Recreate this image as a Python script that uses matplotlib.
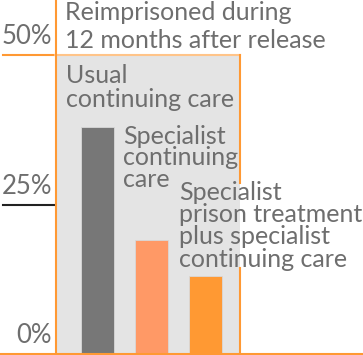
import matplotlib
matplotlib.use("Agg")
import matplotlib.pyplot as plt
import matplotlib.transforms as mtransforms
from matplotlib.lines import Line2D

# data (% reimprisoned within 12 months)
groups = ["Usual\ncontinuing care",
          "Specialist\ncontinuing\ncare",
          "Specialist\nprison treatment\nplus specialist\ncontinuing care"]
values = [38, 19, 13]
bar_colors = ["#777777", "#ff9966", "#ff9933"]
tick_values = [0, 25, 50]
tick_labels = ["0%", "25%", "50%"]
title = "Reimprisoned during\n12 months after release"

W, H = 363, 355
TEXT = "#6e6e6e"
ORANGE = "#ff9933"
FS = 18

plt.rcParams["font.family"] = ["Lato", "DejaVu Sans"]

fig = plt.figure(figsize=(W / 100, H / 100), dpi=100)


def fx(px):
    return px / W


def fy(py):
    return 1 - py / H


# plot box: x 55..240 px, y 55..354 px
ax = fig.add_axes([fx(55), fy(354), fx(240) - fx(55), fy(55) - fy(354)])
ax.set_facecolor("#e4e4e4")
ax.set_ylim(0, 50)
ax.set_xlim(-0.79, 2.64)

x = list(range(len(values)))
ax.bar(x, values, width=0.61, color=bar_colors, edgecolor="#d8d8d8",
       linewidth=0.6, zorder=2)

ax.set_xticks([])
ax.set_yticks([])
for s in ["left", "bottom", "right"]:
    ax.spines[s].set_visible(False)
ax.spines["top"].set_color("#ffc489")
ax.spines["top"].set_linewidth(1.5)

# right border, broken where the third label crosses it
for y0, y1 in [(0, 0.288), (0.572, 1)]:
    ax.plot([1, 1], [y0, y1], transform=ax.transAxes, color=ORANGE,
            lw=1.5, clip_on=False, zorder=3)

# y tick labels and tick lines to the left of the box
blend = mtransforms.blended_transform_factory(ax.transAxes, ax.transData)
tick_colors = {25: "#222222", 50: ORANGE}
for v, lab in zip(tick_values, tick_labels):
    t = mtransforms.offset_copy(blend, fig=fig, x=-3, y=11, units="dots")
    ax.text(0, v, lab, transform=t, ha="right", va="baseline",
            fontsize=18.5, color=TEXT)
    if v in tick_colors:
        ax.plot([-52 / 185, 0], [v, v], transform=blend, color=tick_colors[v],
                lw=1.5, clip_on=False)

# left vertical line through the whole figure and bottom line
fig.add_artist(Line2D([fx(55.5), fx(55.5)], [0, 1], color=ORANGE, lw=1.5))
fig.add_artist(Line2D([0, 1], [fy(354), fy(354)], color=ORANGE, lw=1.5))

# title and group labels
fig.text(fx(65), fy(1), title, ha="left", va="top", fontsize=FS,
         color=TEXT, linespacing=1.27)
label_pos = [(66, 64, 1.03), (123, 125, 0.92), (179, 181, 0.96)]
for lab, (px, py, ls) in zip(groups, label_pos):
    fig.text(fx(px), fy(py), lab, ha="left", va="top", fontsize=FS,
             color=TEXT, linespacing=ls)

fig.savefig("out.png", dpi=100)
